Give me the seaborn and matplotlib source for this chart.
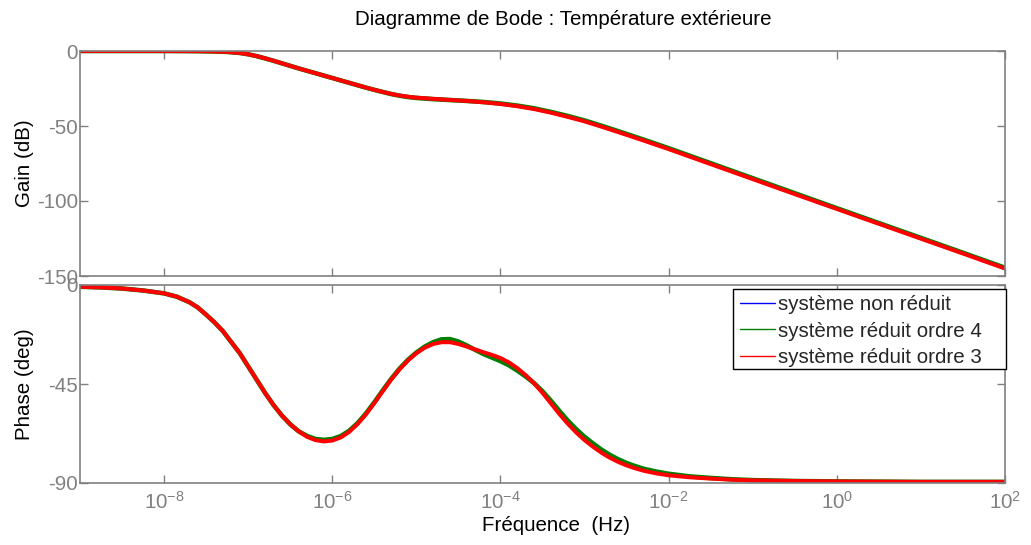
import numpy as np
import pandas as pd
import matplotlib
matplotlib.use("Agg")
import matplotlib.pyplot as plt
import seaborn as sns
from matplotlib.lines import Line2D
from matplotlib.patches import Rectangle
from matplotlib.ticker import FixedLocator, FixedFormatter, NullLocator

# ---------------- data ----------------
gain_logf = [-9.0, -8.0, -7.6, -7.4, -7.25, -7.1, -7.0, -6.9, -6.8, -6.7, -6.6, -6.5,
             -6.4, -6.2, -6.0, -5.8, -5.6, -5.5, -5.4, -5.3, -5.2, -5.1, -5.0, -4.8,
             -4.6, -4.4, -4.2, -4.0, -3.8, -3.6, -3.4, -3.2, -3.0, -2.75, -2.5, -2.25,
             -2.0, -1.5, -1.0, -0.5, 0.0, 0.5, 1.0, 1.5, 2.0]
gain_full = [0, 0, -0.1, -0.3, -0.6, -1.3, -2.2, -3.4, -4.9, -6.5, -8.2, -9.9,
             -11.6, -14.8, -18.0, -21.2, -24.4, -25.9, -27.3, -28.6, -29.7, -30.5, -31.1, -31.9,
             -32.6, -33.3, -34.1, -35.1, -36.6, -38.4, -40.8, -43.6, -46.6, -51.0, -55.6, -60.3,
             -65.1, -75.1, -85.1, -95.1, -105.0, -114.9, -124.8, -134.7, -144.7]
gain_ord4 = [0, 0, -0.1, -0.3, -0.6, -1.3, -2.2, -3.4, -4.9, -6.5, -8.2, -9.9,
             -11.6, -14.8, -18.0, -21.2, -24.4, -25.9, -27.3, -28.7, -29.8, -30.7, -31.3, -32.1,
             -32.7, -33.3, -34.0, -35.0, -36.4, -38.2, -40.6, -43.3, -46.3, -50.7, -55.3, -60.0,
             -64.8, -74.8, -84.8, -94.8, -104.8, -114.7, -124.6, -134.5, -144.5]
gain_ord3 = [0, 0, -0.1, -0.3, -0.6, -1.3, -2.2, -3.4, -4.9, -6.5, -8.2, -9.9,
             -11.6, -14.8, -18.0, -21.2, -24.4, -25.9, -27.3, -28.6, -29.7, -30.5, -31.1, -31.9,
             -32.6, -33.3, -34.2, -35.3, -36.8, -38.7, -41.1, -43.9, -46.9, -51.3, -55.9, -60.6,
             -65.4, -75.4, -85.4, -95.4, -105.3, -115.2, -125.1, -135.0, -145.0]

phase_logf = [-9.0, -8.75, -8.5, -8.25, -8.0, -7.85, -7.7, -7.6, -7.5, -7.4, -7.3, -7.2,
              -7.1, -7.0, -6.9, -6.8, -6.7, -6.6, -6.5, -6.4, -6.3, -6.2, -6.1, -6.0,
              -5.9, -5.8, -5.7, -5.6, -5.5, -5.4, -5.3, -5.2, -5.1, -5.0, -4.9, -4.8,
              -4.7, -4.6, -4.5, -4.4, -4.3, -4.2, -4.1, -4.0, -3.9, -3.8, -3.7, -3.6,
              -3.5, -3.4, -3.3, -3.2, -3.1, -3.0, -2.9, -2.8, -2.7, -2.6, -2.5, -2.4,
              -2.3, -2.15, -2.0, -1.75, -1.5, -1.25, -1.0, -0.5, 0.0, 1.0, 2.0]
phase_full = [-0.8, -1.1, -1.6, -2.5, -3.8, -5.3, -7.8, -10.2, -13.5, -17.0, -21.0, -26.0,
              -31.0, -37.0, -43.0, -49.0, -54.5, -59.3, -63.3, -66.5, -68.7, -70.1, -70.5, -70.1,
              -68.8, -66.4, -62.9, -58.5, -53.4, -48.0, -42.8, -38.1, -34.1, -30.8, -28.2, -26.3,
              -25.2, -25.0, -25.9, -27.6, -29.5, -31.2, -32.6, -34.0, -35.8, -38.2, -41.2, -44.6,
              -48.6, -53.1, -57.7, -62.0, -65.9, -69.4, -72.4, -75.1, -77.5, -79.5, -81.2, -82.6,
              -83.8, -85.0, -85.9, -87.0, -87.7, -88.3, -88.7, -89.1, -89.3, -89.5, -89.5]
phase_ord4 = [-0.8, -1.1, -1.6, -2.5, -3.8, -5.3, -7.8, -10.2, -13.5, -17.0, -21.0, -26.0,
              -31.0, -37.0, -43.0, -49.0, -54.5, -59.3, -63.3, -66.5, -68.6, -70.0, -70.4, -70.0,
              -68.7, -66.3, -62.8, -58.4, -53.3, -47.9, -42.7, -38.0, -34.0, -30.7, -28.0, -26.0,
              -24.7, -24.6, -25.7, -27.5, -29.5, -31.4, -33.0, -34.6, -36.5, -38.9, -41.6, -44.6,
              -48.3, -52.6, -57.2, -61.6, -65.5, -69.0, -72.0, -74.8, -77.2, -79.2, -80.9, -82.3,
              -83.5, -84.8, -85.8, -87.0, -87.7, -88.3, -88.7, -89.1, -89.3, -89.5, -89.5]
phase_ord3 = [-0.8, -1.1, -1.6, -2.5, -3.8, -5.3, -7.8, -10.2, -13.5, -17.0, -21.0, -26.0,
              -31.0, -37.0, -43.0, -49.0, -54.5, -59.3, -63.3, -66.5, -69.0, -70.5, -71.1, -70.7,
              -69.3, -66.8, -63.2, -58.8, -53.7, -48.3, -43.0, -38.3, -34.3, -31.0, -28.5, -26.8,
              -26.0, -26.0, -26.8, -28.0, -29.3, -30.6, -31.8, -33.2, -35.2, -37.8, -41.0, -44.7,
              -49.0, -53.8, -58.6, -63.0, -67.0, -70.5, -73.5, -76.2, -78.5, -80.4, -82.0, -83.3,
              -84.4, -85.6, -86.5, -87.4, -88.0, -88.5, -88.8, -89.1, -89.3, -89.5, -89.5]

labels = ["système non réduit", "système réduit ordre 4", "système réduit ordre 3"]
colors = ["#0000ff", "#008000", "#ff0000"]
widths = [2.2, 3.3, 2.9]

xticks = [1e-8, 1e-6, 1e-4, 1e-2, 1e0, 1e2]
xtick_labels = ["$10^{-8}$", "$10^{-6}$", "$10^{-4}$", "$10^{-2}$", "$10^{0}$", "$10^{2}$"]
gain_ticks = [0, -50, -100, -150]
phase_ticks = [0, -45, -90]

# ---------------- style ----------------
sns.set_theme(style="white")
plt.rcParams["font.family"] = ["Liberation Sans", "DejaVu Sans"]
plt.rcParams["axes.unicode_minus"] = False
plt.rcParams["mathtext.fontset"] = "custom"
plt.rcParams["mathtext.rm"] = "Liberation Sans"
plt.rcParams["mathtext.it"] = "Liberation Sans"
plt.rcParams["mathtext.default"] = "regular"

GRAY = "#808080"
FS = 14.8

W, H = 1031, 545
fig = plt.figure(figsize=(W / 100, H / 100), dpi=100)
L, R = 80, 1005
ax1 = fig.add_axes([L / W, 1 - 276 / H, (R - L) / W, (276 - 51) / H])
ax2 = fig.add_axes([L / W, 1 - 483 / H, (R - L) / W, (483 - 285) / H])

gf = 10.0 ** np.array(gain_logf)
pf = 10.0 ** np.array(phase_logf)
for g, c, lw in zip([gain_full, gain_ord4, gain_ord3], colors, widths):
    sns.lineplot(x=gf, y=g, ax=ax1, color=c, linewidth=lw, sort=False)
for p, c, lw in zip([phase_full, phase_ord4, phase_ord3], colors, widths):
    sns.lineplot(x=pf, y=p, ax=ax2, color=c, linewidth=lw, sort=False)

for ax, yt, ylim in [(ax1, gain_ticks, (-150, 0)), (ax2, phase_ticks, (-90, 0))]:
    ax.set_xscale("log")
    ax.set_xlim(1e-9, 1e2)
    ax.set_ylim(*ylim)
    ax.xaxis.set_major_locator(FixedLocator(xticks))
    ax.xaxis.set_minor_locator(NullLocator())
    ax.yaxis.set_major_locator(FixedLocator(yt))
    ax.tick_params(axis="both", which="both", direction="in", length=6, width=1,
                   color=GRAY, labelcolor=GRAY, labelsize=FS,
                   top=True, right=True, bottom=True, left=True)
    ax.tick_params(axis="y", pad=1.5)
    for s in ax.spines.values():
        s.set_color(GRAY)
        s.set_linewidth(1.2)
        s.set_visible(True)
    ax.set_facecolor("white")

ax1.xaxis.set_major_formatter(FixedFormatter([""] * len(xticks)))
ax2.xaxis.set_major_formatter(FixedFormatter(xtick_labels))
ax2.tick_params(axis="x", pad=6)

ax1.set_ylabel("Gain (dB)", fontsize=FS, color="black")
ax2.set_ylabel("Phase (deg)", fontsize=FS, color="black")
ax1.yaxis.set_label_coords(-0.050, 0.5)
ax2.yaxis.set_label_coords(-0.050, 0.5)
ax2.set_xlabel("Fréquence  (Hz)", fontsize=FS, color="black")
ax2.xaxis.set_label_coords((556 - L) / (R - L), -0.165)

fig.text(563 / W, 1 - 25 / H, "Diagramme de Bode : Température extérieure",
         ha="center", va="baseline", fontsize=FS, color="black")

# legend: MATLAB-style box (wider on the right than the entries)
box = Rectangle((733 / W, 1 - 369 / H), (1006 - 733) / W, (369 - 289) / H,
                transform=fig.transFigure, facecolor="white", edgecolor="black",
                linewidth=1.0, zorder=4.9, clip_on=False)
ax2.add_patch(box)
handles = [Line2D([], [], color=c, linewidth=1) for c in colors]
leg = ax2.legend(handles, labels, loc="upper left",
                 bbox_to_anchor=(740 / W, 1 - 295 / H), bbox_transform=fig.transFigure,
                 borderaxespad=0, frameon=False, fontsize=FS, handlelength=1.7,
                 handletextpad=0.15, labelspacing=0.37, borderpad=0.0)
leg.set_zorder(5)

fig.savefig("out.png", dpi=100, facecolor="white")
